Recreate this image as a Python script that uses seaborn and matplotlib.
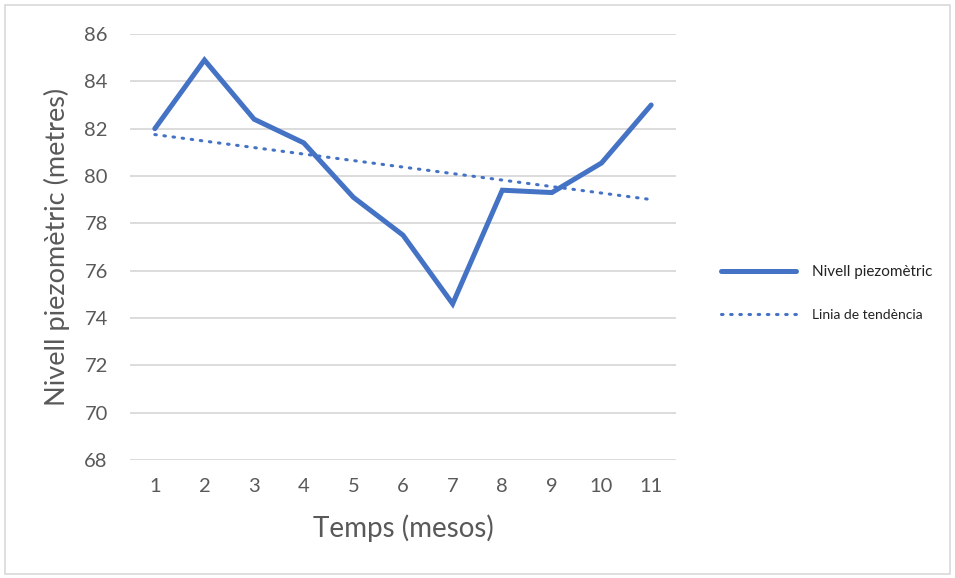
import numpy as np
import pandas as pd
import matplotlib
matplotlib.use("Agg")
import matplotlib.pyplot as plt
import seaborn as sns
from matplotlib.patches import Rectangle

months = [1, 2, 3, 4, 5, 6, 7, 8, 9, 10, 11]
nivell = [82.0, 84.9, 82.4, 81.4, 79.1, 77.5, 74.6, 79.4, 79.3, 80.55, 83.0]
y_ticks = [68, 70, 72, 74, 76, 78, 80, 82, 84, 86]

sns.set_theme(style="white")
plt.rcParams['font.family'] = ['Lato', 'DejaVu Sans']

df = pd.DataFrame({"mes": months, "nivell": nivell})
coef = np.polyfit(df["mes"], df["nivell"], 1)
df["tend"] = np.polyval(coef, df["mes"])

fig = plt.figure(figsize=(9.55, 5.78), dpi=100)
ax = fig.add_axes([130/955, 1-460/578, (676-130)/955, (460-34)/578])

blue = "#4472C4"
sns.lineplot(data=df, x="mes", y="nivell", ax=ax, color=blue, lw=3.6,
             label="Nivell piezomètric", solid_capstyle="round", solid_joinstyle="miter")
sns.lineplot(data=df, x="mes", y="tend", ax=ax, color=blue, lw=2.2,
             linestyle=(0, (0.5, 2.5)), dash_capstyle="round", label="Linia de tendència")

ax.set_xlim(0.5, 11.5)
ax.set_ylim(68, 86)
ax.set_yticks(y_ticks)
ax.set_xticks(months)
ax.grid(axis="y", color="#d9d9d9", lw=1.3)
ax.set_axisbelow(True)
for s in ax.spines.values():
    s.set_visible(False)
ax.tick_params(axis="both", length=0, labelsize=14.5, labelcolor="#595959")
ax.tick_params(axis="y", pad=16)
ax.tick_params(axis="x", pad=13)
ax.set_xlabel("Temps (mesos)", fontsize=20, color="#595959", labelpad=14)
ax.set_ylabel("Nivell piezomètric (metres)", fontsize=19.5, color="#595959", labelpad=10)

leg = ax.legend(loc="center left", bbox_to_anchor=(713/955, 1-293/578),
                bbox_transform=fig.transFigure, frameon=False, fontsize=11,
                handlelength=4.9, labelspacing=1.9, handletextpad=1.1, borderpad=0)
texts = leg.get_texts()
texts[1].set_fontsize(10)
for t in texts:
    t.set_color("#222222")

fig.patches.append(Rectangle((5/955, 4/578), 945/955, 569/578, transform=fig.transFigure,
                             fill=False, edgecolor="#d9d9d9", lw=1.2))

fig.savefig("out.png", dpi=100)
